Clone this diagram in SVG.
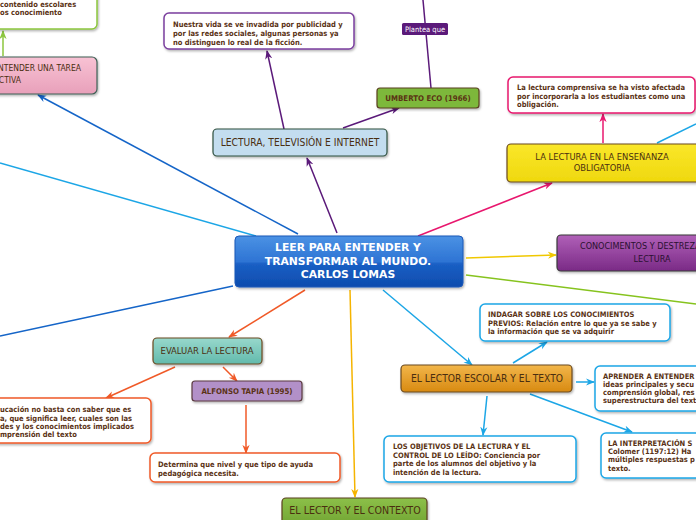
<svg xmlns="http://www.w3.org/2000/svg" width="696" height="520" viewBox="0 0 696 520">
<style>
.c{fill:none;stroke-width:1.5}
.t{font-family:'DejaVu Sans Condensed','DejaVu Sans',sans-serif;font-weight:bold;font-size:7.5px;fill:#5a3214}
.h{font-family:'DejaVu Sans Condensed','DejaVu Sans',sans-serif;font-size:9px;fill:#4a2e10;text-anchor:middle}
.w{fill:#fff;stroke-width:1.5}
.box{stroke-width:1.2}
</style>
<defs>
<filter id="sh" x="-10%" y="-10%" width="120%" height="130%"><feDropShadow dx="1" dy="1.5" stdDeviation="1" flood-color="#000" flood-opacity="0.3"/></filter>
<linearGradient id="gBlue" x1="0" y1="0" x2="0" y2="1"><stop offset="0" stop-color="#4b92e4"/><stop offset="0.5" stop-color="#2e74d4"/><stop offset="0.55" stop-color="#1a5fc4"/><stop offset="1" stop-color="#0d4cae"/></linearGradient>
<linearGradient id="gPurple" x1="0" y1="0" x2="0" y2="1"><stop offset="0" stop-color="#b060b8"/><stop offset="1" stop-color="#7a2a86"/></linearGradient>
<linearGradient id="gOrange" x1="0" y1="0" x2="0" y2="1"><stop offset="0" stop-color="#f2b64a"/><stop offset="1" stop-color="#d88a12"/></linearGradient>
<linearGradient id="gTeal" x1="0" y1="0" x2="0" y2="1"><stop offset="0" stop-color="#98d8cc"/><stop offset="1" stop-color="#62baac"/></linearGradient>
<linearGradient id="gPink" x1="0" y1="0" x2="0" y2="1"><stop offset="0" stop-color="#f8c2d4"/><stop offset="1" stop-color="#e8a0ba"/></linearGradient>
<linearGradient id="gYellow" x1="0" y1="0" x2="0" y2="1"><stop offset="0" stop-color="#fae72a"/><stop offset="1" stop-color="#efd80e"/></linearGradient>
<linearGradient id="gGreen" x1="0" y1="0" x2="0" y2="1"><stop offset="0" stop-color="#8cc048"/><stop offset="1" stop-color="#6fa232"/></linearGradient>
<marker id="mPurple" viewBox="0 0 10 10" refX="9" refY="5" markerWidth="9" markerHeight="9" markerUnits="userSpaceOnUse" orient="auto"><path d="M0,1 L10,5 L0,9 L3,5 z" fill="#5b1a7a"/></marker>
<marker id="mBlue" viewBox="0 0 10 10" refX="9" refY="5" markerWidth="9" markerHeight="9" markerUnits="userSpaceOnUse" orient="auto"><path d="M0,1 L10,5 L0,9 L3,5 z" fill="#1565c8"/></marker>
<marker id="mCyan" viewBox="0 0 10 10" refX="9" refY="5" markerWidth="9" markerHeight="9" markerUnits="userSpaceOnUse" orient="auto"><path d="M0,1 L10,5 L0,9 L3,5 z" fill="#1ca6e6"/></marker>
<marker id="mPink" viewBox="0 0 10 10" refX="9" refY="5" markerWidth="9" markerHeight="9" markerUnits="userSpaceOnUse" orient="auto"><path d="M0,1 L10,5 L0,9 L3,5 z" fill="#e8176e"/></marker>
<marker id="mYellow" viewBox="0 0 10 10" refX="9" refY="5" markerWidth="9" markerHeight="9" markerUnits="userSpaceOnUse" orient="auto"><path d="M0,1 L10,5 L0,9 L3,5 z" fill="#f0c800"/></marker>
<marker id="mAmber" viewBox="0 0 10 10" refX="9" refY="5" markerWidth="9" markerHeight="9" markerUnits="userSpaceOnUse" orient="auto"><path d="M0,1 L10,5 L0,9 L3,5 z" fill="#f5b400"/></marker>
<marker id="mRed" viewBox="0 0 10 10" refX="9" refY="5" markerWidth="9" markerHeight="9" markerUnits="userSpaceOnUse" orient="auto"><path d="M0,1 L10,5 L0,9 L3,5 z" fill="#f05a28"/></marker>
<marker id="mGreen" viewBox="0 0 10 10" refX="9" refY="5" markerWidth="9" markerHeight="9" markerUnits="userSpaceOnUse" orient="auto"><path d="M0,1 L10,5 L0,9 L3,5 z" fill="#8cc63e"/></marker>
</defs>
<rect width="696" height="520" fill="#fff"/>

<g id="connectors">
<line class="c" x1="3" y1="56" x2="3" y2="31" stroke="#8cc63e" marker-end="url(#mGreen)"/>
<line class="c" x1="298" y1="234" x2="38" y2="95" stroke="#1565c8" marker-end="url(#mBlue)"/>
<line class="c" x1="256" y1="236" x2="0" y2="163" stroke="#1ca6e6"/>
<line class="c" x1="337" y1="233" x2="307" y2="158" stroke="#5b1a7a" marker-end="url(#mPurple)"/>
<line class="c" x1="284" y1="129" x2="267" y2="51" stroke="#5b1a7a" marker-end="url(#mPurple)"/>
<line class="c" x1="343" y1="128" x2="399" y2="108" stroke="#5b1a7a" marker-end="url(#mPurple)"/>
<line class="c" x1="423" y1="0" x2="431" y2="88" stroke="#5b1a7a"/>
<line class="c" x1="418" y1="236" x2="552" y2="183" stroke="#e8176e" marker-end="url(#mPink)"/>
<line class="c" x1="603" y1="143" x2="603" y2="114" stroke="#e8176e" marker-end="url(#mPink)"/>
<line class="c" x1="657" y1="143" x2="696" y2="124" stroke="#1ca6e6"/>
<line class="c" x1="233" y1="286" x2="0" y2="336" stroke="#1565c8"/>
<line class="c" x1="466" y1="258" x2="556" y2="255" stroke="#f0c800" marker-end="url(#mYellow)"/>
<line class="c" x1="466" y1="275" x2="696" y2="304" stroke="#86c31e"/>
<line class="c" x1="383" y1="290" x2="472" y2="365" stroke="#1ca6e6" marker-end="url(#mCyan)"/>
<line class="c" x1="513" y1="363" x2="547" y2="342" stroke="#1ca6e6" marker-end="url(#mCyan)"/>
<line class="c" x1="576" y1="382" x2="594" y2="382" stroke="#1ca6e6" marker-end="url(#mCyan)"/>
<line class="c" x1="530" y1="394" x2="632" y2="432" stroke="#1ca6e6" marker-end="url(#mCyan)"/>
<line class="c" x1="487" y1="396" x2="483" y2="435" stroke="#1ca6e6" marker-end="url(#mCyan)"/>
<line class="c" x1="305" y1="290" x2="229" y2="337" stroke="#f05a28" marker-end="url(#mRed)"/>
<line class="c" x1="175" y1="367" x2="106" y2="398" stroke="#f05a28" marker-end="url(#mRed)"/>
<line class="c" x1="223" y1="367" x2="237" y2="381" stroke="#f05a28" marker-end="url(#mRed)"/>
<line class="c" x1="246" y1="405" x2="246" y2="453" stroke="#f05a28" marker-end="url(#mRed)"/>
<line class="c" x1="350" y1="290" x2="355" y2="497" stroke="#f5b400" marker-end="url(#mAmber)"/>
<rect x="402" y="23" width="46" height="12" rx="1.5" fill="#5b1a7a"/>
<text x="425" y="32" font-family="'DejaVu Sans Condensed','DejaVu Sans',sans-serif" font-size="7.5" fill="#fff" text-anchor="middle">Plantea que</text>
</g>

<g id="n-topleft">
<rect class="w" x="-10" y="-10" width="107" height="39" rx="5" stroke="#8cc63e" filter="url(#sh)"/>
<text class="t" x="0" y="7">contenido escolares</text>
<text class="t" x="0" y="15">os conocimiento</text>
</g>

<g id="n-tarea">
<rect class="box" x="-10" y="57" width="107" height="37" rx="5" fill="url(#gPink)" stroke="#3f5f55" filter="url(#sh)"/>
<text class="h" x="81" y="71" style="text-anchor:end;font-size:8.5px">ENTENDER UNA TAREA</text>
<text class="h" x="21" y="83" style="text-anchor:end;font-size:8.5px">CTIVA</text>
</g>

<g id="n-nuestra">
<rect class="w" x="164" y="13" width="190" height="36" rx="5" stroke="#7b3f9e" filter="url(#sh)"/>
<text class="t" x="173" y="27">Nuestra vida se ve invadida por publicidad y</text>
<text class="t" x="173" y="36">por las redes sociales, algunas personas ya</text>
<text class="t" x="173" y="45">no distinguen lo real de la ficción.</text>
</g>

<g id="n-umberto">
<rect class="box" x="377" y="88" width="102" height="20" rx="3" fill="#7db83a" stroke="#5a4020" filter="url(#sh)"/>
<text class="t" x="428" y="101" text-anchor="middle" style="font-size:7.8px">UMBERTO ECO (1966)</text>
</g>

<g id="n-lectura-tv">
<rect class="box" x="213" y="129" width="174" height="27" rx="4" fill="#c3ddef" stroke="#2e4f3e" filter="url(#sh)"/>
<text class="h" x="300" y="146" style="font-size:10.2px">LECTURA, TELEVISIÓN E INTERNET</text>
</g>

<g id="n-central">
<rect x="235" y="236" width="228" height="51" rx="4" fill="url(#gBlue)" stroke="#1a58b8" stroke-width="1" filter="url(#sh)"/>
<g font-family="'DejaVu Sans','Liberation Sans',sans-serif" font-weight="bold" font-size="10.8" fill="#fff" text-anchor="middle">
<text x="348" y="251">LEER PARA ENTENDER Y</text>
<text x="348" y="265">TRANSFORMAR AL MUNDO.</text>
<text x="348" y="278">CARLOS LOMAS</text>
</g>
</g>

<g id="n-comprensiva">
<rect class="w" x="508" y="77" width="187" height="36" rx="5" stroke="#e8176e" filter="url(#sh)"/>
<text class="t" x="517" y="90">La lectura comprensiva se ha visto afectada</text>
<text class="t" x="517" y="99">por incorporarla a los estudiantes como una</text>
<text class="t" x="517" y="107">obligación.</text>
</g>

<g id="n-obligatoria">
<rect class="box" x="507" y="144" width="195" height="38" rx="4" fill="url(#gYellow)" stroke="#6b4a20" filter="url(#sh)"/>
<text class="h" x="602" y="160" style="font-size:9.3px">LA LECTURA EN LA ENSEÑANZA</text>
<text class="h" x="602" y="171" style="font-size:9.3px">OBLIGATORIA</text>
</g>

<g id="n-conocimentos">
<rect class="box" x="557" y="235" width="150" height="36" rx="4" fill="url(#gPurple)" stroke="#3a3a3a" filter="url(#sh)"/>
<text class="h" x="580" y="249" style="text-anchor:start;fill:#2a1030">CONOCIMENTOS Y DESTREZAS</text>
<text class="h" x="652" y="262" style="fill:#2a1030">LECTURA</text>
</g>

<g id="n-indagar">
<rect class="w" x="480" y="304" width="190" height="37" rx="5" stroke="#1ca6e6" filter="url(#sh)"/>
<text class="t" x="488" y="317">INDAGAR SOBRE LOS CONOCIMIENTOS</text>
<text class="t" x="488" y="326">PREVIOS: Relación entre lo que ya se sabe y</text>
<text class="t" x="488" y="334">la información que se va adquirir</text>
</g>

<g id="n-escolar">
<rect class="box" x="401" y="365" width="171" height="27" rx="4" fill="url(#gOrange)" stroke="#6b4a20" filter="url(#sh)"/>
<text class="h" x="487" y="382" style="font-size:10.2px">EL LECTOR ESCOLAR Y EL TEXTO</text>
</g>

<g id="n-aprender">
<rect class="w" x="595" y="366" width="110" height="45" rx="5" stroke="#1ca6e6" filter="url(#sh)"/>
<text class="t" x="603" y="379">APRENDER A ENTENDER</text>
<text class="t" x="603" y="387">ideas principales y secu</text>
<text class="t" x="603" y="395">comprensión global, res</text>
<text class="t" x="603" y="403">superestructura del text</text>
</g>

<g id="n-interpretacion">
<rect class="w" x="601" y="433" width="105" height="45" rx="5" stroke="#1ca6e6" filter="url(#sh)"/>
<text class="t" x="608" y="446">LA INTERPRETACIÓN S</text>
<text class="t" x="608" y="454">Colomer (1197:12) Ha</text>
<text class="t" x="608" y="462">múltiples respuestas p</text>
<text class="t" x="608" y="471">texto.</text>
</g>

<g id="n-objetivos">
<rect class="w" x="384" y="436" width="192" height="46" rx="5" stroke="#1ca6e6" filter="url(#sh)"/>
<text class="t" x="393" y="449">LOS OBJETIVOS DE LA LECTURA Y EL</text>
<text class="t" x="393" y="458">CONTROL DE LO LEÍDO: Conciencia por</text>
<text class="t" x="393" y="466">parte de los alumnos del objetivo y la</text>
<text class="t" x="393" y="475">intención de la lectura.</text>
</g>

<g id="n-evaluar">
<rect class="box" x="153" y="338" width="109" height="26" rx="4" fill="url(#gTeal)" stroke="#6b4a20" filter="url(#sh)"/>
<text class="h" x="207" y="354" style="font-size:9.4px">EVALUAR LA LECTURA</text>
</g>

<g id="n-educacion">
<rect class="w" x="-10" y="398" width="161" height="45" rx="5" stroke="#f05a28" filter="url(#sh)"/>
<text class="t" x="0" y="412">ucación no basta con saber que es</text>
<text class="t" x="0" y="421">a, que significa leer, cuales son  las</text>
<text class="t" x="0" y="429">des y los conocimientos implicados</text>
<text class="t" x="0" y="437">mprensión del texto</text>
</g>

<g id="n-tapia">
<rect class="box" x="192" y="381" width="110" height="20" rx="3" fill="#b290c8" stroke="#5a3a40" filter="url(#sh)"/>
<text class="t" x="247" y="394" text-anchor="middle" style="font-size:7.8px">ALFONSO TAPIA (1995)</text>
</g>

<g id="n-determina">
<rect class="w" x="150" y="453" width="190" height="29" rx="5" stroke="#f05a28" filter="url(#sh)"/>
<text class="t" x="158" y="467">Determina que nivel y que tipo de ayuda</text>
<text class="t" x="158" y="476">pedagógica necesita.</text>
</g>

<g id="n-contexto">
<rect class="box" x="282" y="498" width="145" height="30" rx="4" fill="url(#gGreen)" stroke="#5a4020" filter="url(#sh)"/>
<text class="h" x="355" y="514" style="font-size:10.6px">EL LECTOR Y EL CONTEXTO</text>
</g>
</svg>
